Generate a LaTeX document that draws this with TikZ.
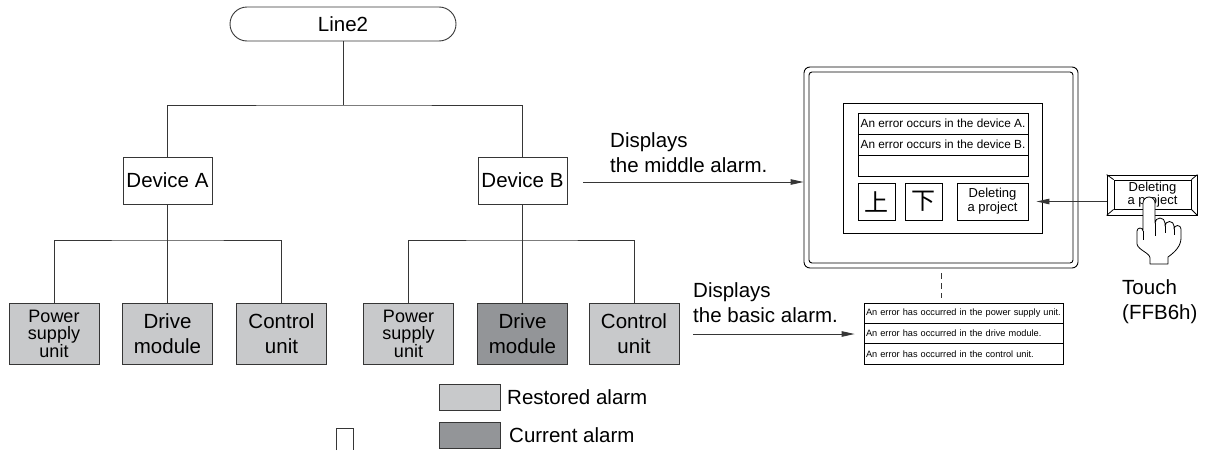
\documentclass[tikz,border=0pt]{standalone}
\usepackage{fontspec}
\setmainfont{Liberation Sans}
\newfontfamily\cjk{Noto Sans CJK JP}
\usetikzlibrary{arrows.meta}

\definecolor{restored}{HTML}{C8C9CB}
\definecolor{current}{HTML}{939598}
\definecolor{edge}{HTML}{363636}

\begin{document}
\begin{tikzpicture}[
    x=1pt, y=-1pt,
    >={Triangle[length=13pt,width=5.5pt]},
    every node/.style={inner sep=0pt},
    wire/.style={draw=edge, line width=0.9pt},
    big/.style={font=\fontsize{20.5}{25}\selectfont},
    device/.style={big, draw=edge, line width=0.9pt, minimum width=89pt, minimum height=47pt},
    unit/.style={big, draw=edge, line width=0.9pt, fill=restored, minimum width=90pt, minimum height=61pt, align=center},
    psu/.style={font=\fontsize{18}{17.5}\selectfont},
    alarmrow/.style={draw=black, line width=1pt, minimum width=170pt, minimum height=21pt, font=\fontsize{11.8}{13}\selectfont},
    basicrow/.style={draw=black, line width=0.8pt, minimum width=199pt, minimum height=20.3pt, text width=195pt, align=left, font=\fontsize{9.2}{10}\selectfont},
    button/.style={draw=black, line width=0.9pt, minimum width=37pt, minimum height=37pt}
]
    \useasboundingbox (0,0) rectangle (1209,450);

    % Tree
    \node[big, draw=edge, line width=0.9pt, rounded corners=17pt, minimum width=226pt, minimum height=34pt] (line2) at (343,24) {Line2};
    \node[device] (devA) at (167.5,180.5) {Device A};
    \node[device] (devB) at (522.5,180.5) {Device B};

    \node[unit, psu] (psuA) at (54,333.5)    {Power\\supply\\unit};
    \node[unit]      (drvA) at (167.5,333.5) {Drive\\module};
    \node[unit]      (ctlA) at (281.5,333.5) {Control\\unit};
    \node[unit, psu] (psuB) at (408.5,333.5) {Power\\supply\\unit};
    \node[unit, fill=current] (drvB) at (522.5,333.5) {Drive\\module};
    \node[unit]      (ctlB) at (634,333.5)   {Control\\unit};

    \coordinate (busTop) at (343,105);
    \coordinate (busA) at (167.5,240);
    \coordinate (busB) at (522.5,240);

    \draw[wire] (line2) -- (busTop);
    \draw[wire] (devA) |- (busTop) -| (devB);
    \draw[wire] (devA) -- (busA);
    \draw[wire] (psuA) |- (busA) -| (ctlA);
    \draw[wire] (busA) -- (drvA);
    \draw[wire] (devB) -- (busB);
    \draw[wire] (psuB) |- (busB) -| (ctlB);
    \draw[wire] (busB) -- (drvB);

    % Monitor with the middle alarm list
    \node[draw=black, line width=0.9pt, rounded corners=6pt, minimum width=274pt, minimum height=201pt] (monitor) at (941,167.5) {};
    \node[draw=black, line width=0.9pt, rounded corners=3pt, minimum width=264pt, minimum height=191pt] (bezel) at (monitor) {};
    \node[draw=black, line width=0.9pt, minimum width=199pt, minimum height=130pt] (screen) at (942.5,168) {};

    \node[alarmrow] (rowA) at (943,123.5) {An error occurs in the device A.};
    \node[alarmrow] (rowB) at (943,144.5) {An error occurs in the device B.};
    \node[alarmrow] (rowC) at (943,165.5) {};

    \node[button, font=\cjk\fontsize{24}{24}\selectfont] (up) at (876.5,201.5) {上};
    \node[button, font=\cjk\fontsize{24}{24}\selectfont] (down) at (923.5,201.5) {下};
    \node[button, minimum width=71pt, align=center, font=\fontsize{13}{14}\selectfont] (del) at (992.5,201.5) {Deleting\\a project};

    % Basic alarm list
    \node[basicrow] (rowPsu) at (963.5,313.2) {An error has occurred in the power supply unit.};
    \node[basicrow] (rowDrv) at (963.5,333.5) {An error has occurred in the drive module.};
    \node[basicrow] (rowCtl) at (963.5,353.8) {An error has occurred in the control unit.};

    \draw[wire, dash pattern=on 6pt off 4pt, shorten <=5pt, shorten >=5pt] (monitor.south) -- (monitor.south |- rowPsu.north);

    % Arrows and their captions
    \coordinate (midFrom) at (583,182);
    \draw[wire, ->] (midFrom) -- (monitor.west |- midFrom);
    \node[big, align=left, anchor=south west] (midText) at (610,173) {Displays\\the middle alarm.};

    \coordinate (basicFrom) at (693,334);
    \draw[wire, ->, shorten >=9pt] (basicFrom) -- (basicFrom -| rowDrv.west);
    \node[big, align=left, anchor=south west] (basicText) at (693,323) {Displays\\the basic alarm.};

    % Touch key
    \node[draw=black, line width=0.8pt, minimum width=90pt, minimum height=40pt] (key) at (1152,195) {};
    \node[draw=black, line width=0.8pt, minimum width=77pt, minimum height=29pt, align=center, font=\fontsize{13}{13}\selectfont] (keyface) at (1152.5,194.5) {Deleting\\a project};
    \foreach \c in {north west, north east, south west, south east}
        \draw[line width=0.8pt] (key.\c) -- (keyface.\c);

    \draw[wire, ->, shorten >=8pt] (key.west |- del) -- (del.east);

    % Hand
    \draw[line width=0.8pt, fill=white, line join=round]
        (1150,264) -- (1168,264) -- (1168,257)
        .. controls (1175,252) and (1181,246) .. (1181,238)
        -- (1181,229) arc[start angle=0, end angle=-180, radius=3.5]
        -- (1174,226) arc[start angle=0, end angle=-180, radius=4.5]
        -- (1165,223) arc[start angle=0, end angle=-180, radius=5]
        -- (1155,203) arc[start angle=0, end angle=-180, radius=6]
        -- (1143,231) arc[start angle=0, end angle=-180, radius=3]
        -- (1137,244) .. controls (1138,250) and (1150,253) .. (1150,258)
        -- cycle;
    \draw[line width=0.8pt] (1143,231) -- (1143,240);
    \draw[line width=0.8pt] (1155,223) -- (1155,236);
    \draw[line width=0.8pt] (1165,226) -- (1165,233);
    \draw[line width=0.8pt] (1174,229) -- (1174,235);

    \node[big, align=left, anchor=north west] (touch) at (1122,279) {Touch\\(FFB6h)};

    % Legend
    \node[draw=edge, line width=0.9pt, fill=restored, minimum width=61pt, minimum height=26pt] (keyRestored) at (469.5,397) {};
    \node[big, anchor=west] (lblRestored) at (507,397) {Restored alarm};
    \node[draw=edge, line width=0.9pt, fill=current, minimum width=61pt, minimum height=26pt] (keyCurrent) at (469.5,435) {};
    \node[big, anchor=west] (lblCurrent) at (509,435) {Current alarm};

    \draw[edge, line width=0.9pt] (336,450) -- (336,428) -- (353,428) -- (353,450);
\end{tikzpicture}
\end{document}
